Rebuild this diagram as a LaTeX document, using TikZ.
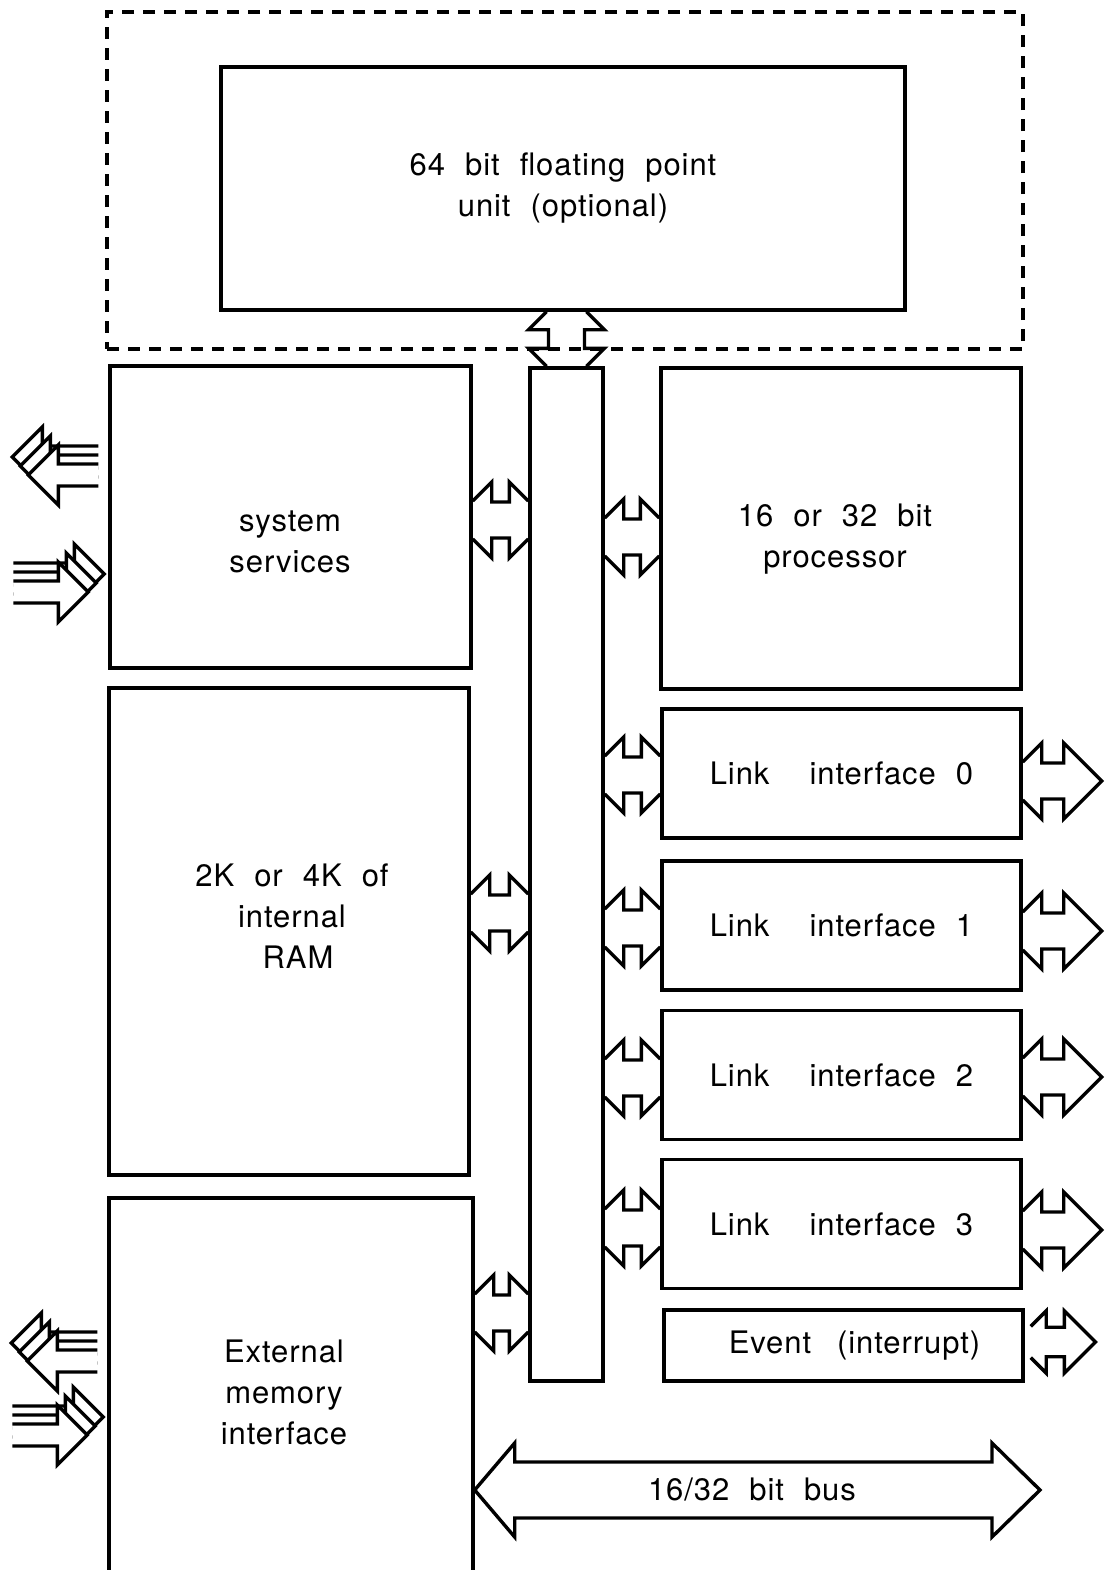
\documentclass[tikz,border=0pt]{standalone}
\usepackage{fontspec}
\setmainfont{TeX Gyre Heros}[LetterSpace=3, WordSpace=2.1]
\usetikzlibrary{calc}

% notched two-way arrow between two boxes
\newcommand{\busarrow}[2]{%
  \draw (#1) ++(0,-19) -- ++(19,-19) -- ++(0,20) -- ($(#2)+(-19,-18)$)
    -- ++(0,-20) -- ++(19,19);
  \draw (#1) ++(0,19) -- ++(19,19) -- ++(0,-20) -- ($(#2)+(-19,18)$)
    -- ++(0,20) -- ++(19,-19);
}
% two-way arrow leaving a link box
\newcommand{\linkarrow}[2][1]{%
  \begin{scope}[shift={(#2)}, scale=#1]
    \draw (0,-19) -- ++(19,-19) -- ++(0,20) -- ++(22,0) -- ++(0,-20)
      -- ++(38,38) -- ++(-38,38) -- ++(0,-20) -- ++(-22,0) -- ++(0,20) -- ++(-19,-19);
  \end{scope}
}
% bundle of signals going out (to the left)
\newcommand{\sigsout}[1]{%
  \begin{scope}[shift={(#1)}]
    \foreach \k in {2,1,0}
      \filldraw[fill=white]
        (-10,{-9*\k-11}) -- ({-50-8*\k},{-9*\k-11}) -- ({-50-8*\k},{-9*\k-30})
        -- ({-80-8*\k},{-9*\k}) -- ({-50-8*\k},{-9*\k+30})
        -- ({-50-8*\k},{-9*\k+11}) -- (-10,{-9*\k+11});
  \end{scope}
}
% bundle of signals coming in (from the left)
\newcommand{\sigsin}[1]{%
  \begin{scope}[shift={(#1)}]
    \foreach \k in {2,1,0}
      \filldraw[fill=white]
        (-95,{-9*\k-11}) -- ({-50+8*\k},{-9*\k-11}) -- ({-50+8*\k},{-9*\k-30})
        -- ({-20+8*\k},{-9*\k}) -- ({-50+8*\k},{-9*\k+30})
        -- ({-50+8*\k},{-9*\k+11}) -- (-95,{-9*\k+11});
  \end{scope}
}

\begin{document}
\begin{tikzpicture}[x=0.5pt, y=-0.5pt, line width=1.7pt,
    blk/.style={draw, inner sep=0pt},
    txt/.style={align=center, inner sep=0pt, font=\fontsize{15.5}{20.5}\selectfont}]
  \useasboundingbox (0,0) rectangle (1105,1570);
  \clip (0,0) rectangle (1105,1570);

  \node[blk, dash pattern=on 6pt off 4.5pt, minimum width=458pt, minimum height=168.5pt]
    (opt) at (565,180.5) {};
  \node[blk, txt, minimum width=342pt, minimum height=121.5pt]
    (fpu) at (563,188.5) {64 bit floating point\\unit (optional)};

  \node[blk, minimum width=180.5pt, minimum height=151pt] (sys) at (290.5,517) {};
  \node[txt] (systxt) at (290,542) {system\\services};

  \node[blk, minimum width=180pt, minimum height=243.5pt] (ram) at (289,931.5) {};
  \node[txt] (ramtxt) at (292,916) {2K or 4K of\\internal\\\hspace*{6pt}RAM};

  \node[blk, minimum width=182pt, minimum height=200pt] (ext) at (291,1398) {};
  \node[txt] (exttxt) at (284,1392) {External\\memory\\interface};

  \node[blk, minimum width=36.5pt, minimum height=506.5pt] (bus) at (566.5,874.5) {};

  \node[blk, minimum width=180pt, minimum height=160.5pt] (proc) at (841,528.5) {};
  \node[txt] (proctxt) at (835,539) {16 or 32 bit\\processor};

  \foreach \i/\y in {0/773.5, 1/925.5, 2/1075, 3/1224}
    \node[blk, txt, minimum width=179.5pt, minimum height=64.5pt]
      (link\i) at (841.5,\y) {Link\ \ interface \i};

  \node[blk, txt, minimum width=179.5pt, minimum height=35.5pt]
    (ev) at (843.5,1345.5) {\hspace*{11pt}Event\hspace{13pt}(interrupt)};

  % fpu to bus
  \draw ($(bus.north |- fpu.south)+(-20,0)$) -- ++(-18,18) -- ++(20,0)
    -- ($(bus.north)+(-18,-18)$) -- ++(-20,0) -- ++(18,18);
  \draw ($(bus.north |- fpu.south)+(20,0)$) -- ++(18,18) -- ++(-20,0)
    -- ($(bus.north)+(18,-18)$) -- ++(20,0) -- ++(-18,18);

  \busarrow{sys.east |- 0,520}{bus.west |- 0,520}
  \busarrow{ram.east |- 0,913}{bus.west |- 0,913}
  \busarrow{ext.east |- 0,1313}{bus.west |- 0,1313}
  \busarrow{bus.east |- 0,537}{proc.west |- 0,537}
  \foreach \i/\y in {0/775, 1/928, 2/1078, 3/1228}
    {\busarrow{bus.east |- 0,\y}{link\i.west |- 0,\y}}

  \foreach \i/\y in {0/781, 1/931, 2/1077, 3/1230}
    {\linkarrow{link\i.east |- 0,\y}}
  \linkarrow[0.82]{$(ev.east |- 0,1342)+(6,0)$}

  \sigsout{sys.west |- 0,475}
  \sigsin{sys.west |- 0,592}
  \sigsout{ext.west |- 0,1361}
  \sigsin{ext.west |- 0,1435}

  % external bus
  \coordinate (busl) at (ext.east |- 0,1490);
  \coordinate (busr) at (1040,1490);
  \draw (busl) -- ++(40,-47) -- ++(0,19) -- ($(busr)+(-48,-28)$) -- ++(0,-19) -- (busr)
    -- ++(-48,47) -- ++(0,-19) -- ($(busl)+(40,28)$) -- ++(0,19) -- cycle;
  \node[txt] (bustxt) at (752,1489) {16/32 bit bus};
\end{tikzpicture}
\end{document}
